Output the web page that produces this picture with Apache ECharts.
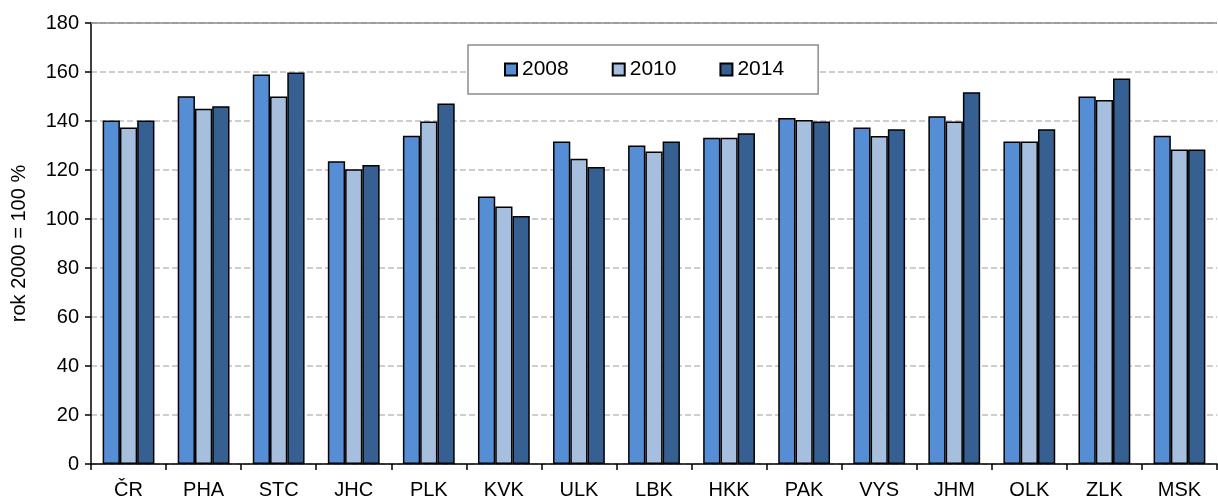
<!DOCTYPE html>
<html><head><meta charset="utf-8">
<script src="https://cdn.jsdelivr.net/npm/echarts@6/dist/echarts.min.js"></script>
<style>html,body{margin:0;padding:0;background:#fff}#c{width:1218px;height:498px}</style>
</head><body><div id="c"></div>
<script>
const categories = ['ČR','PHA','STC','JHC','PLK','KVK','ULK','LBK','HKK','PAK','VYS','JHM','OLK','ZLK','MSK'];
const seriesNames = ['2008','2010','2014'];
const v2008 = [140.2,150.1,159.0,123.6,134.0,109.2,131.6,130.0,133.2,141.2,137.3,141.9,131.6,150.0,134.0];
const v2010 = [137.3,145.0,150.0,120.3,139.8,105.1,124.6,127.6,133.2,140.4,133.9,139.8,131.6,148.6,128.4];
const v2014 = [140.2,146.0,159.8,122.0,147.1,101.2,121.2,131.6,135.0,139.8,136.6,151.7,136.6,157.3,128.4];
const yTicks = {min:0, max:180, interval:20};
const colors = ['#558ED5','#A7BFDE','#376092'];
const FONT = 'Liberation Sans, Arial, sans-serif';

const chart = echarts.init(document.getElementById('c'), null, {renderer:'canvas'});
const data = [v2008, v2010, v2014];
chart.setOption({
  animation:false,
  textStyle:{fontFamily:FONT},
  grid:{left:91, right:1, top:23, bottom:34, containLabel:false, outerBoundsMode:'none',
        show:true, borderWidth:0},
  legend:{
    data:seriesNames, left:468, top:45,
    padding:[14,34,14,36], itemGap:43, itemWidth:12, itemHeight:12,
    borderColor:'#8c8c8c', borderWidth:1.5, backgroundColor:'#fff',
    textStyle:{fontSize:21, color:'#000', fontFamily:FONT, padding:[0,0,0,0]},
    icon:'rect'
  },
  xAxis:{
    type:'category', data:categories,
    axisLine:{lineStyle:{color:'#000', width:1.5}},
    axisTick:{show:true, length:6, alignWithLabel:false, lineStyle:{color:'#000', width:1.5}},
    axisLabel:{fontSize:20, color:'#000', margin:16, fontFamily:FONT},
    splitLine:{show:false}
  },
  yAxis:[{
    type:'value', min:yTicks.min, max:yTicks.max, interval:yTicks.interval,
    name:'rok 2000 = 100 %', nameLocation:'middle', nameGap:62, nameRotate:90,
    nameTextStyle:{fontSize:20, color:'#000', fontFamily:FONT},
    axisLine:{show:true, lineStyle:{color:'#000', width:1.5}},
    axisTick:{show:true, length:6, lineStyle:{color:'#000', width:1.5}},
    axisLabel:{fontSize:20, color:'#000', margin:12, fontFamily:FONT},
    splitLine:{show:true, lineStyle:{color:'#bfbfbf', type:[6,3], width:1.5}}
  }],
  series: seriesNames.map((n,i)=>({
    name:n, type:'bar', data:data[i],
    barGap:'0%', barCategoryGap:'31%',
    itemStyle:{color:colors[i], borderColor:'#000', borderWidth:1.5},
    markLine: i===0 ? {silent:true, symbol:'none', label:{show:false},
      lineStyle:{color:'#8c8c8c', type:'solid', width:1.5},
      data:[{yAxis:yTicks.max}]} : undefined
  }))
});
</script></body></html>
